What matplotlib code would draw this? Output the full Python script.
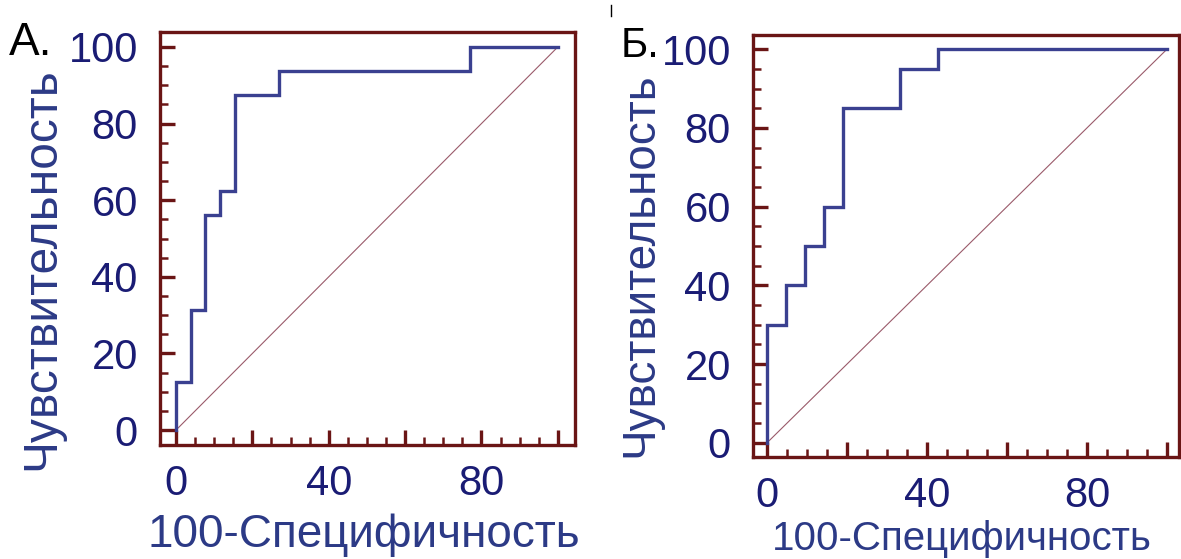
import matplotlib
matplotlib.use("Agg")
import matplotlib.pyplot as plt
from matplotlib.ticker import MultipleLocator, FixedLocator
from matplotlib.lines import Line2D

# ROC data (100-Specificity, Sensitivity)
fpr_a = [0, 0, 3.85, 3.85, 7.69, 7.69, 11.54, 11.54, 15.38, 15.38, 26.92, 26.92, 76.92, 76.92, 100]
tpr_a = [0, 12.5, 12.5, 31.25, 31.25, 56.25, 56.25, 62.5, 62.5, 87.5, 87.5, 93.75, 93.75, 100, 100]
fpr_b = [0, 0, 4.76, 4.76, 9.52, 9.52, 14.29, 14.29, 19.05, 19.05, 33.33, 33.33, 42.86, 42.86, 100]
tpr_b = [0, 30, 30, 40, 40, 50, 50, 60, 60, 85, 85, 95, 95, 100, 100]
x_major = [0, 20, 40, 60, 80, 100]
x_labels = ["0", "", "40", "", "80", ""]
y_major = [0, 20, 40, 60, 80, 100]
y_labels = ["0", "20", "40", "60", "80", "100"]
panel_letters = ["А.", "Б."]
xlabel = "100-Специфичность"
ylabel = "Чувствительность"

plt.rcParams['font.family'] = ['Liberation Sans', 'DejaVu Sans']

FRAME = "#6a1515"
ROC = "#3a4090"
TXT = "#1a1c74"
LBL = "#2c3a86"
DIAG = "#9a5a6a"

W, H = 1181, 559
fig = plt.figure(figsize=(W / 100, H / 100), dpi=100)
fig.patch.set_facecolor("white")

def px_axes(l, r, t, b):
    return fig.add_axes([l / W, (H - b) / H, (r - l) / W, (b - t) / H])

specs = [
    dict(box=(160, 575, 32, 445), xlim=(-4.2, 104.5), ylim=(-3.9, 103.9),
         fpr=fpr_a, tpr=tpr_a, letter=(9, 55, 33),
         xlab=(364, 547, 33), ylab=(42, 269, 34.5)),
    dict(box=(753, 1179, 35, 457), xlim=(-3.5, 103.0), ylim=(-3.6, 103.6),
         fpr=fpr_b, tpr=tpr_b, letter=(621, 57, 30),
         xlab=(962, 550, 29), ylab=(640, 265, 33)),
]

for i, s in enumerate(specs):
    ax = px_axes(*s["box"])
    ax.set_xlim(*s["xlim"])
    ax.set_ylim(*s["ylim"])
    ax.plot([0, 100], [0, 100], color=DIAG, lw=0.8, zorder=2)
    ax.plot(s["fpr"], s["tpr"], color=ROC, lw=2.4, zorder=3, solid_joinstyle="miter")
    for sp in ax.spines.values():
        sp.set_color(FRAME)
        sp.set_linewidth(2.4)
    ax.xaxis.set_major_locator(FixedLocator(x_major))
    ax.set_xticklabels(x_labels)
    ax.yaxis.set_major_locator(FixedLocator(y_major))
    ax.set_yticklabels(y_labels)
    ax.xaxis.set_minor_locator(MultipleLocator(5))
    ax.yaxis.set_minor_locator(MultipleLocator(5))
    ax.tick_params(which="major", direction="in", length=11, width=2.4, color=FRAME,
                   labelsize=30, labelcolor=TXT, pad=14, top=False, right=False)
    ax.tick_params(which="minor", direction="in", length=6, width=1.8, color=FRAME,
                   top=False, right=False)
    ax.tick_params(axis="y", which="major", pad=16)
    lx, ly, lfs = s["letter"]
    fig.text(lx / W, 1 - ly / H, panel_letters[i], fontsize=lfs, color="black",
             ha="left", va="baseline")
    xx, xy, xfs = s["xlab"]
    fig.text(xx / W, 1 - xy / H, xlabel, fontsize=xfs, color=LBL,
             ha="center", va="baseline")
    yx, yy, yfs = s["ylab"]
    fig.text(yx / W, 1 - yy / H, ylabel, fontsize=yfs, color=LBL,
             ha="center", va="center", rotation=90)

# small stray mark at top
fig.add_artist(Line2D([611 / W, 611 / W], [1 - 5 / H, 1 - 16 / H], color="black", lw=1))

fig.savefig("out.png", dpi=100, facecolor="white")
